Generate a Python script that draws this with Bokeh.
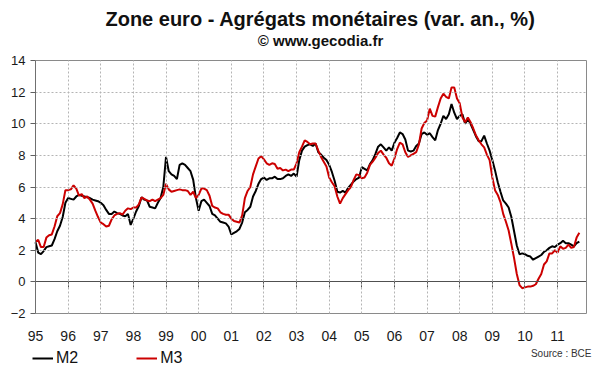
from bokeh.plotting import figure
from bokeh.models import Range1d, FixedTicker, Label, Legend, LegendItem, LinearAxis
from bokeh.embed import file_html
from bokeh.resources import INLINE

# ---------------- data (annual growth, %, monthly Jan 1995 - Sep 2011) ----------------
start_year = 1995
year_ticks = list(range(1995, 2012))
year_labels = ["95", "96", "97", "98", "99", "00", "01", "02", "03", "04",
               "05", "06", "07", "08", "09", "10", "11"]
y_ticks = [-2, 0, 2, 4, 6, 8, 10, 12, 14]
series_names = ["M2", "M3"]

m2 = [
    2.5, 1.85, 1.75, 1.95, 2.2, 2.25, 2.3, 2.7, 3.2, 3.55, 4.1, 5.0,        # 1995
    5.3, 5.25, 5.2, 5.4, 5.5, 5.45, 5.4, 5.35, 5.3, 5.2, 5.15, 5.1,         # 1996
    5.0, 4.85, 4.55, 4.3, 4.3, 4.45, 4.35, 4.3, 4.2, 4.15, 4.3, 3.6,        # 1997
    4.0, 4.45, 4.8, 5.35, 5.2, 5.15, 4.75, 4.7, 4.65, 5.0, 5.3, 6.0,        # 1998
    7.9, 7.0, 6.8, 6.7, 6.5, 7.4, 7.5, 7.4, 7.2, 7.0, 6.45, 5.3,            # 1999
    4.5, 5.1, 5.2, 5.0, 4.8, 4.3, 4.2, 4.0, 3.8, 3.75, 3.7, 3.5,            # 2000
    3.0, 3.1, 3.2, 3.35, 3.75, 4.4, 4.55, 4.75, 5.4, 5.75, 6.2, 6.5,        # 2001
    6.6, 6.45, 6.55, 6.55, 6.65, 6.5, 6.5, 6.55, 6.7, 6.8, 6.7, 6.85,       # 2002
    6.65, 7.7, 8.3, 8.55, 8.65, 8.7, 8.6, 8.75, 8.2, 8.05, 7.85, 7.7,       # 2003
    7.4, 6.95, 6.4, 5.7, 5.65, 5.75, 5.65, 5.95, 6.15, 6.35, 6.5, 6.6,      # 2004
    7.25, 7.15, 7.05, 7.45, 7.7, 8.1, 8.55, 8.7, 8.5, 8.3, 8.5, 8.3,        # 2005
    8.8, 9.1, 9.45, 9.35, 9.0, 8.3, 8.25, 8.3, 8.6, 8.75, 9.35, 9.45,       # 2006
    9.3, 9.4, 9.15, 8.95, 9.6, 10.0, 10.5, 10.3, 10.6, 11.25, 10.7, 10.3,   # 2007
    10.5, 10.6, 10.0, 10.3, 10.0, 9.6, 9.2, 8.9, 8.9, 9.25, 8.75, 8.3,      # 2008
    7.7, 7.05, 6.3, 5.7, 5.15, 4.95, 4.7, 4.1, 3.2, 2.3, 1.75, 1.8,         # 2009
    1.75, 1.65, 1.6, 1.4, 1.5, 1.6, 1.7, 1.9, 2.0, 2.15, 2.25, 2.2,         # 2010
    2.35, 2.45, 2.6, 2.45, 2.45, 2.35, 2.25, 2.45, 2.55,                    # 2011
]

m3 = [
    2.55, 2.65, 2.2, 2.2, 2.8, 2.95, 3.0, 3.5, 4.15, 4.35, 4.9, 5.8,        # 1995
    5.8, 5.85, 6.1, 5.9, 5.45, 5.55, 5.3, 5.4, 5.2, 4.95, 4.5, 4.1,         # 1996
    3.75, 3.65, 3.5, 3.55, 3.95, 4.2, 4.3, 4.35, 4.25, 4.5, 4.65, 4.6,      # 1997
    4.7, 4.7, 4.9, 5.35, 5.25, 5.15, 5.1, 5.2, 5.1, 5.2, 5.3, 5.5,          # 1998
    6.2, 5.85, 5.7, 5.75, 5.8, 5.85, 5.8, 5.8, 5.75, 5.5, 5.7, 5.3,         # 1999
    5.5, 5.9, 5.9, 5.8, 5.45, 4.8, 4.7, 4.65, 4.4, 4.3, 4.25, 4.25,         # 2000
    4.0, 3.85, 3.8, 3.75, 4.2, 5.3, 5.75, 6.0, 6.8, 7.3, 7.8, 7.95,         # 2001
    7.75, 7.5, 7.4, 7.5, 7.45, 7.15, 7.2, 7.05, 7.1, 7.0, 7.1, 7.1,         # 2002
    7.5, 8.2, 8.55, 8.95, 8.85, 8.7, 8.75, 8.75, 8.3, 7.9, 7.6, 7.3,        # 2003
    6.6, 6.3, 6.05, 5.4, 4.95, 5.3, 5.55, 5.8, 6.0, 6.45, 6.8, 6.75,        # 2004
    6.55, 6.6, 6.9, 7.4, 7.6, 7.85, 8.15, 8.3, 8.05, 7.85, 7.5, 7.35,       # 2005
    7.8, 8.4, 8.8, 8.7, 8.2, 7.9, 8.0, 8.1, 8.2, 8.7, 9.7, 10.05,           # 2006
    10.2, 10.95, 10.5, 10.45, 11.05, 11.6, 11.9, 11.7, 11.6, 12.3, 12.3, 11.6,  # 2007
    11.3, 10.4, 10.1, 10.4, 10.1, 9.7, 9.25, 8.95, 8.7, 8.5, 8.05, 7.7,     # 2008
    6.6, 5.8, 5.5, 5.05, 4.3, 3.8, 3.25, 2.4, 1.5, 0.5, -0.2, -0.4,         # 2009
    -0.35, -0.3, -0.3, -0.25, -0.15, 0.2, 0.5, 1.1, 1.3, 1.8, 1.8, 2.0,     # 2010
    1.85, 2.25, 2.1, 2.15, 2.35, 2.15, 2.2, 2.8, 3.1,                       # 2011
]

months = [start_year + i / 12 for i in range(len(m2))]

# ---------------- layout constants ----------------
FONT = "Liberation Sans"
W, H = 600, 372
PX_PER_YEAR = 32.63            # horizontal scale
PX_PER_UNIT = 253 / 16         # vertical scale
LEFT_PX, TOP_PX = 35, 60       # plot box corner on the canvas
X_LO, X_HI = 1995.0, 2011.89   # plot box, data units
Y_LO, Y_HI = -2.0, 14.0

x_start = X_LO - LEFT_PX / PX_PER_YEAR
x_end = X_LO + (W - LEFT_PX) / PX_PER_YEAR
y_end = Y_HI + TOP_PX / PX_PER_UNIT
y_start = Y_HI - (H - TOP_PX) / PX_PER_UNIT


def px_x(px):
    return X_LO + (px - LEFT_PX) / PX_PER_YEAR


def px_y(py):
    return Y_HI - (py - TOP_PX) / PX_PER_UNIT


p = figure(width=W, height=H, x_range=Range1d(x_start, x_end), y_range=Range1d(y_start, y_end),
           output_backend="svg", toolbar_location=None, min_border=0)
p.title.text = ""
p.title.visible = False
p.outline_line_color = None
p.background_fill_color = "white"
p.border_fill_color = "white"
p.xgrid.visible = False
p.ygrid.visible = False

BOX = "#8a8a8a"
GRID = "#b4b4b4"


def box_line(loc, bounds, panel, color, dash="solid"):
    ax = LinearAxis(fixed_location=loc, bounds=bounds, ticker=FixedTicker(ticks=[]),
                    axis_line_color=color, axis_line_dash=dash, axis_line_width=1,
                    major_tick_line_color=None, minor_tick_line_color=None,
                    major_label_text_color=None)
    p.add_layout(ax, panel)
    return ax


# dotted grid inside the box (one bounded line per tick)
for t in year_ticks[1:]:
    box_line(t, (Y_LO, Y_HI), "left", GRID, "2 2")
for t in y_ticks:
    if Y_LO < t < Y_HI and t != 0:
        box_line(t, (X_LO, X_HI), "below", GRID, "2 2")

# bottom axis: box bottom line + year labels
xa = p.xaxis[0]
xa.fixed_location = Y_LO
xa.bounds = (X_LO, X_HI)
xa.ticker = FixedTicker(ticks=year_ticks)
xa.major_label_overrides = {y: lab for y, lab in zip(year_ticks, year_labels)}
xa.axis_line_color = BOX
xa.major_tick_line_color = None
xa.minor_tick_line_color = None
xa.major_tick_out = 0
xa.major_tick_in = 0
xa.major_label_standoff = 17
xa.major_label_text_font = FONT
xa.major_label_text_font_size = "14px"
xa.major_label_text_color = "#1a1a1a"

# left axis
ya = p.yaxis[0]
ya.fixed_location = X_LO
ya.bounds = (Y_LO, Y_HI)
ya.ticker = FixedTicker(ticks=y_ticks)
ya.axis_line_color = "#707070"
ya.major_tick_line_color = "#606060"
ya.major_tick_out = 5
ya.major_tick_in = 0
ya.minor_tick_line_color = None
ya.major_label_text_font = FONT
ya.major_label_text_font_size = "13px"
ya.major_label_text_color = "#1a1a1a"
ya.major_label_standoff = 5

# zero axis with year ticks
za = LinearAxis(fixed_location=0, bounds=(X_LO, X_HI), ticker=FixedTicker(ticks=year_ticks[1:]),
                axis_line_color="#505050", major_tick_line_color="#505050",
                major_tick_out=6, major_tick_in=2, minor_tick_line_color=None,
                major_label_overrides={y: "" for y in year_ticks}, major_label_text_color=None)
p.add_layout(za, "below")

# top and right box lines
box_line(Y_HI, (X_LO, X_HI), "above", BOX)
box_line(X_HI, (Y_LO, Y_HI), "right", BOX)

# series (painted with the guides, after them, so they sit on top of the grid)
r2 = p.line(months, m2, line_color="#000000", line_width=2, level="guide")
r3 = p.line(months, m3, line_color="#cc0000", line_width=2, level="guide")

legend = Legend(items=[LegendItem(label=series_names[0], renderers=[r2]),
                       LegendItem(label=series_names[1], renderers=[r3])],
                orientation="horizontal", location=(32, 5),
                glyph_width=21, glyph_height=16, label_standoff=3, spacing=58,
                padding=0, margin=0, border_line_color=None, background_fill_alpha=0,
                label_text_font=FONT, label_text_font_size="16px", label_text_color="#111111")
p.add_layout(legend)

# texts
p.add_layout(Label(x=px_x(320), y=px_y(18), text="Zone euro - Agrégats monétaires (var. an., %)",
                   text_align="center", text_baseline="middle", text_font=FONT,
                   text_font_style="bold", text_font_size="20px", text_color="#111111"))
p.add_layout(Label(x=px_x(320), y=px_y(40), text="© www.gecodia.fr",
                   text_align="center", text_baseline="middle", text_font=FONT,
                   text_font_style="bold", text_font_size="15px", text_color="#111111"))
p.add_layout(Label(x=px_x(591), y=px_y(353), text="Source : BCE",
                   text_align="right", text_baseline="middle", text_font=FONT,
                   text_font_size="10px", text_color="#333333"))

open("out.html", "w").write(file_html(p, INLINE))
